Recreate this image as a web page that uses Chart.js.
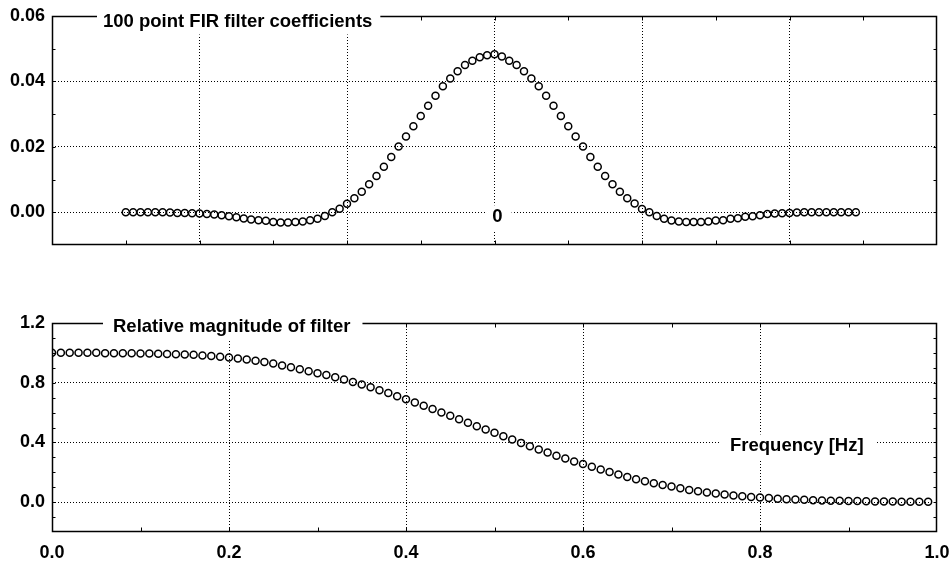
<!DOCTYPE html>
<html>
<head>
<meta charset="utf-8">
<title>100 point FIR filter</title>
<script src="https://cdn.jsdelivr.net/npm/chart.js@4.4.0/dist/chart.umd.min.js"></script>
<style>
  html, body { margin: 0; padding: 0; background: #fff; }
  #wrap { position: relative; width: 949px; height: 562px; overflow: hidden; }
  canvas { position: absolute; left: 0; }
  #coefChart { top: 0; }
  #magChart { top: 300px; }
</style>
</head>
<body>
<div id="wrap">
  <canvas id="coefChart" width="949" height="260"></canvas>
  <canvas id="magChart" width="949" height="262"></canvas>
</div>
<script>
(function () {
    'use strict';

    const FONT = '"Liberation Sans", Arial, Helvetica, sans-serif';

    // ---- top panel: 100 filter taps (index -50 .. 49) ----
    const coefIndex = [];
    for (let n = -50; n < 50; n++) coefIndex.push(n);
    const coefValues = [
        0, 0, 0, 0, 0, 0, -0.0001, -0.0002, -0.0002, -0.0003,
        -0.0004, -0.0005, -0.0007, -0.0009, -0.0012, -0.0015, -0.0019, -0.0022, -0.0024, -0.0026,
        -0.0030, -0.0031, -0.0031, -0.0030, -0.0028, -0.0024, -0.0020, -0.0011, 0.0000, 0.0011,
        0.0026, 0.0043, 0.0063, 0.0086, 0.0111, 0.0139, 0.0169, 0.0201, 0.0232, 0.0263,
        0.0294, 0.0326, 0.0356, 0.0385, 0.0409, 0.0431, 0.0450, 0.0463, 0.0474, 0.0480,
        0.0483, 0.0476, 0.0463, 0.0450, 0.0431, 0.0409, 0.0385, 0.0356, 0.0326, 0.0294,
        0.0263, 0.0232, 0.0201, 0.0169, 0.0139, 0.0111, 0.0086, 0.0063, 0.0043, 0.0027,
        0.0010, 0.0000, -0.0011, -0.0020, -0.0025, -0.0028, -0.0030, -0.0030, -0.0030, -0.0028,
        -0.0025, -0.0024, -0.0020, -0.0018, -0.0014, -0.0012, -0.0009, -0.0005, -0.0004, -0.0003,
        -0.0002, -0.0001, 0, 0, 0, 0, 0, 0, 0, 0
    ];
    const coefXTicks = [-60, -40, -20, 0, 20, 40, 60];
    const coefYTicks = [0, 0.02, 0.04, 0.06];

    // ---- bottom panel: relative magnitude vs frequency ----
    const magFreq = [];
    for (let i = 0; i < 100; i++) magFreq.push(i / 100);
    const magValues = [
        1.000, 1.000, 1.000, 1.000, 1.000, 1.000, 0.998, 0.998, 0.998, 0.997,
        0.996, 0.995, 0.994, 0.993, 0.991, 0.989, 0.987, 0.983, 0.979, 0.974,
        0.969, 0.963, 0.956, 0.947, 0.938, 0.928, 0.916, 0.904, 0.890, 0.877,
        0.864, 0.851, 0.837, 0.822, 0.805, 0.788, 0.769, 0.750, 0.731, 0.710,
        0.689, 0.667, 0.646, 0.624, 0.601, 0.578, 0.555, 0.532, 0.509, 0.487,
        0.465, 0.442, 0.419, 0.397, 0.375, 0.353, 0.332, 0.311, 0.292, 0.273,
        0.255, 0.237, 0.219, 0.202, 0.185, 0.169, 0.154, 0.140, 0.127, 0.115,
        0.104, 0.093, 0.082, 0.073, 0.065, 0.058, 0.051, 0.045, 0.040, 0.035,
        0.031, 0.027, 0.023, 0.020, 0.018, 0.016, 0.013, 0.011, 0.010, 0.009,
        0.008, 0.007, 0.006, 0.005, 0.004, 0.004, 0.003, 0.003, 0.003, 0.003
    ];
    const magXTicks = [0, 0.2, 0.4, 0.6, 0.8, 1.0];
    const magYTicks = [0, 0.4, 0.8, 1.2];

    // ---- helpers ----
    const steps = (from, to, step) => {
        const out = [];
        for (let v = from; v <= to + step / 2; v += step) out.push(+v.toFixed(6));
        return out;
    };
    const hideEdges = (lo, hi) => (c) => {
        const v = c.tick ? c.tick.value : null;
        return (v === null || Math.abs(v - lo) < 1e-9 || Math.abs(v - hi) < 1e-9) ? 'rgba(0,0,0,0)' : '#000';
    };

    // frame, inward ticks and boxed labels
    function decor(opt) {
        return {
            id: 'decor',
            beforeDatasetsDraw(chart) {
                const { ctx, chartArea: a, scales: { x, y } } = chart;
                const L = Math.round(a.left) + 0.5, R = Math.round(a.right) - 0.5;
                const T = Math.round(a.top) + 0.5, B = Math.round(a.bottom) - 0.5;
                ctx.save();
                ctx.strokeStyle = '#000';
                ctx.lineWidth = 1;
                ctx.beginPath();
                opt.xMinor.forEach(v => {
                    const px = Math.round(x.getPixelForValue(v)) + 0.5;
                    ctx.moveTo(px, B); ctx.lineTo(px, B - 4);
                    ctx.moveTo(px, T); ctx.lineTo(px, T + 4);
                });
                opt.yMinor.forEach(v => {
                    const py = Math.round(y.getPixelForValue(v)) + 0.5;
                    ctx.moveTo(L, py); ctx.lineTo(L + 3, py);
                    ctx.moveTo(R, py); ctx.lineTo(R - 3, py);
                });
                ctx.stroke();
                ctx.lineWidth = 1.5;
                ctx.strokeRect(L, T, R - L, B - T);

                ctx.font = opt.labelFont;
                ctx.fillStyle = '#fff';
                opt.labels.forEach(l => {
                    const p = place(chart, l);
                    ctx.fillRect(p.left - l.padL, p.base - 17, p.w + l.padL + l.padR, 25);
                });
                ctx.restore();
            },
            afterDatasetsDraw(chart) {
                const { ctx } = chart;
                ctx.save();
                ctx.font = opt.labelFont;
                ctx.fillStyle = '#000';
                ctx.textBaseline = 'alphabetic';
                ctx.textAlign = 'left';
                opt.labels.forEach(l => {
                    const p = place(chart, l);
                    ctx.fillText(l.text, p.left, p.base);
                });
                ctx.restore();
            }
        };
    }
    function place(chart, l) {
        const { ctx, chartArea: a, scales: { x, y } } = chart;
        const w = ctx.measureText(l.text).width;
        const left = l.dx !== undefined ? a.left + l.dx : x.getPixelForValue(l.xv) - w / 2;
        const base = y.getPixelForValue(l.yv) + l.dy;
        return { left, base, w };
    }

    function makePanel(canvas, cfg) {
        const tickFont = { family: FONT, size: 18, weight: 'bold' };
        return new Chart(canvas, {
            type: 'scatter',
            data: {
                datasets: [{
                    data: cfg.xs.map((v, i) => ({ x: v, y: cfg.ys[i] })),
                    showLine: false,
                    pointStyle: 'circle',
                    pointRadius: 3.5,
                    pointHoverRadius: 3.5,
                    pointBorderWidth: 1.5,
                    pointBorderColor: '#000',
                    pointBackgroundColor: 'rgba(0,0,0,0)',
                    clip: 0
                }]
            },
            options: {
                responsive: false,
                animation: false,
                events: [],
                devicePixelRatio: 1,
                layout: { padding: cfg.padding },
                plugins: { legend: { display: false }, tooltip: { enabled: false } },
                scales: {
                    x: {
                        type: 'linear',
                        min: cfg.xMin, max: cfg.xMax,
                        afterBuildTicks: s => { s.ticks = cfg.xTicks.map(v => ({ value: v })); },
                        afterFit: s => { s.height = cfg.xAxisHeight; s.paddingLeft = 0; s.paddingRight = 0; },
                        ticks: {
                            display: cfg.xLabels, font: tickFont, color: '#000', padding: 10,
                            autoSkip: false, maxRotation: 0,
                            callback: v => Number(v).toFixed(cfg.xDigits)
                        },
                        grid: { color: hideEdges(cfg.xMin, cfg.xMax), lineWidth: 1, drawTicks: false },
                        border: { display: false, dash: [1, 2] }
                    },
                    y: {
                        type: 'linear',
                        min: cfg.yMin, max: cfg.yMax,
                        afterBuildTicks: s => { s.ticks = cfg.yTicks.map(v => ({ value: v })); },
                        afterFit: s => { s.width = 52; s.paddingTop = 0; s.paddingBottom = 0; },
                        ticks: {
                            font: tickFont, color: '#000', padding: 7, autoSkip: false,
                            callback: v => Number(v).toFixed(cfg.yDigits)
                        },
                        grid: { color: hideEdges(cfg.yMin, cfg.yMax), lineWidth: 1, drawTicks: false },
                        border: { display: false, dash: [1, 2] }
                    }
                }
            },
            plugins: [decor(cfg.decor)]
        });
    }

    const labelFont = `bold 18.5px ${FONT}`;

    makePanel(document.getElementById('coefChart'), {
        xs: coefIndex, ys: coefValues,
        xMin: -60, xMax: 60, xTicks: coefXTicks, xDigits: 0, xLabels: false, xAxisHeight: 0,
        yMin: -0.01, yMax: 0.06, yTicks: coefYTicks, yDigits: 2,
        padding: { top: 16, right: 12, bottom: 15, left: 0 },
        decor: {
            labelFont,
            xMinor: steps(-50, 50, 10),
            yMinor: steps(0, 0.05, 0.01),
            labels: [
                { text: '100 point FIR filter coefficients', dx: 51, yv: 0.06, dy: 10.5, padL: 6, padR: 8 },
                { text: '0', xv: 0.4, yv: 0, dy: 10, padL: 6, padR: 9 }
            ]
        }
    });

    makePanel(document.getElementById('magChart'), {
        xs: magFreq, ys: magValues,
        xMin: 0, xMax: 1, xTicks: magXTicks, xDigits: 1, xLabels: true, xAxisHeight: 30,
        yMin: -0.2, yMax: 1.2, yTicks: magYTicks, yDigits: 1,
        padding: { top: 23, right: 12, bottom: 0, left: 0 },
        decor: {
            labelFont,
            xMinor: steps(0.1, 0.9, 0.1),
            yMinor: steps(-0.1, 1.1, 0.1),
            labels: [
                { text: 'Relative magnitude of filter', dx: 61, yv: 1.2, dy: 9, padL: 10, padR: 12 },
                { text: 'Frequency [Hz]', dx: 678, yv: 0.4, dy: 9, padL: 10, padR: 12 }
            ]
        }
    });
})();
</script>
</body>
</html>
